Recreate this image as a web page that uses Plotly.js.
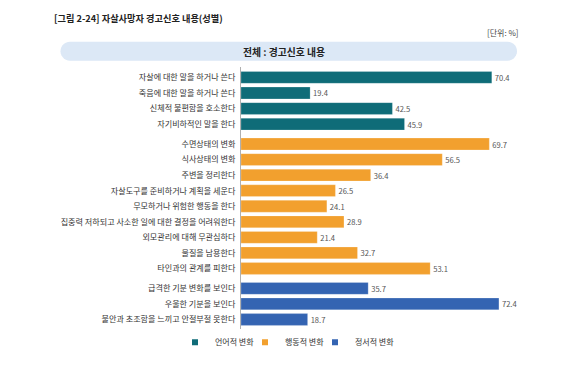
<!DOCTYPE html>
<html>
<head>
<meta charset="utf-8">
<script src="https://cdn.plot.ly/plotly-3.0.1.min.js"></script>
<style>
html,body{margin:0;padding:0;background:#fff;}
#chart{width:574px;height:369px;}
</style>
</head>
<body>
<div id="chart"></div>
<script>
// ---- data ----
const titleText = "[그림 2-24] 자살사망자 경고신호 내용(성별)";
const subTitle = "전체 : 경고신호 내용";
const unitText = "[단위: %]";
const groupNames = ["언어적 변화", "행동적 변화", "정서적 변화"];
const verbalLabels = ["자살에 대한 말을 하거나 쓴다", "죽음에 대한 말을 하거나 쓴다", "신체적 불편함을 호소한다", "자기비하적인 말을 한다"];
const verbalValues = [70.4, 19.4, 42.5, 45.9];
const behaviorLabels = ["수면상태의 변화", "식사상태의 변화", "주변을 정리한다", "자살도구를 준비하거나 계획을 세운다", "무모하거나 위험한 행동을 한다", "집중력 저하되고 사소한 일에 대한 결정을 어려워한다", "외모관리에 대해 무관심하다", "물질을 남용한다", "타인과의 관계를 피한다"];
const behaviorValues = [69.7, 56.5, 36.4, 26.5, 24.1, 28.9, 21.4, 32.7, 53.1];
const emotionLabels = ["급격한 기분 변화를 보인다", "우울한 기분을 보인다", "불안과 초조함을 느끼고 안절부절 못한다"];
const emotionValues = [35.7, 72.4, 18.7];

// ---- style ----
const colors = ["#0f6c78", "#f2a02e", "#3464b2"];
const FONT = "'Noto Sans CJK KR', 'Noto Sans', sans-serif";
const GAP = 0.28;

const groups = [
  {labels: verbalLabels, values: verbalValues},
  {labels: behaviorLabels, values: behaviorValues},
  {labels: emotionLabels, values: emotionValues}
];

const traces = [];
const tickvals = [], ticktext = [];
let idx = 0;
groups.forEach((g, gi) => {
  const ys = g.labels.map((_, i) => idx + i + gi * GAP);
  idx += g.labels.length;
  ys.forEach((y, i) => { tickvals.push(y); ticktext.push(g.labels[i]); });
  traces.push({
    type: "bar", orientation: "h",
    x: g.values, y: ys,
    width: 0.76,
    marker: {color: colors[gi], line: {color: "rgba(255,255,255,0.35)", width: 0.6}},
    text: g.values.map(v => v.toFixed(1)),
    textposition: "outside",
    textfont: {family: FONT, size: 7.6, color: "#555"},
    cliponaxis: false,
    showlegend: false,
    hoverinfo: "skip"
  });
});
groupNames.forEach((n, gi) => {
  traces.push({
    type: "scatter", mode: "markers", x: [null], y: [null], name: n,
    marker: {symbol: "square", size: 6, color: colors[gi]},
    legendwidth: gi === groupNames.length - 1 ? 48 : 25,
    showlegend: true, hoverinfo: "skip"
  });
});

// pill background (pixel path anchored at plot top-left)
function pillPath(x0, x1, yTop, yBot) {
  const r = (yTop - yBot) / 2, cy = (yTop + yBot) / 2;
  const pts = [];
  const n = 14;
  for (let k = 0; k <= n; k++) {
    const a = Math.PI / 2 - Math.PI * k / n;
    pts.push([x1 - r + r * Math.cos(a), cy + r * Math.sin(a)]);
  }
  for (let k = 0; k <= n; k++) {
    const a = -Math.PI / 2 - Math.PI * k / n;
    pts.push([x0 + r + r * Math.cos(a), cy + r * Math.sin(a)]);
  }
  return "M" + pts.map(p => p[0].toFixed(2) + "," + p[1].toFixed(2)).join("L") + "Z";
}

const layout = {
  width: 574, height: 369,
  margin: {l: 241, r: 48, t: 67, b: 26},
  paper_bgcolor: "#fff", plot_bgcolor: "#fff",
  font: {family: FONT, size: 8, color: "#333"},
  title: {
    text: titleText, xref: "container", yref: "container",
    x: 54 / 574, xanchor: "left", y: 1 - 19 / 369, yanchor: "middle",
    font: {family: FONT, size: 9.2, color: "#222", weight: "bold"}
  },
  xaxis: {range: [0, 80], visible: false, fixedrange: true},
  yaxis: {
    range: [16.17, -0.67], tickvals: tickvals, ticktext: ticktext,
    showgrid: false, zeroline: false, showline: true, linecolor: "#b0b0b0", linewidth: 1,
    ticks: "", ticklabelstandoff: 3,
    tickfont: {family: FONT, size: 8.1, color: "#333"}, fixedrange: true
  },
  bargap: 0,
  showlegend: true,
  legend: {
    orientation: "h", x: (175 - 241) / 285, xanchor: "left",
    y: (343 - 357) / 276, yanchor: "middle",
    entrywidth: 25, entrywidthmode: "pixels",
    font: {family: FONT, size: 8, color: "#333"},
    bgcolor: "rgba(0,0,0,0)", borderwidth: 0, itemclick: false, itemdoubleclick: false
  },
  shapes: [{
    type: "path", layer: "below",
    xref: "paper", yref: "paper", xsizemode: "pixel", ysizemode: "pixel",
    xanchor: 0, yanchor: 1,
    path: pillPath(60.5 - 241, 517 - 241, 67 - 41.7, 67 - 60.7),
    fillcolor: "#dce8f6", line: {width: 0}
  }],
  annotations: [
    {text: subTitle, xref: "paper", yref: "paper", x: (284 - 241) / 285, y: (343 - 51) / 276,
     xanchor: "center", yanchor: "middle", showarrow: false,
     font: {family: FONT, size: 9.8, color: "#222", weight: "bold"}},
    {text: unitText, xref: "paper", yref: "paper", x: (521 - 241) / 285, y: (343 - 30.7) / 276,
     xanchor: "right", yanchor: "middle", showarrow: false,
     font: {family: FONT, size: 8, color: "#444"}}
  ],
  hovermode: false
};

Plotly.newPlot("chart", traces, layout, {displayModeBar: false, staticPlot: true});
</script>
</body>
</html>
